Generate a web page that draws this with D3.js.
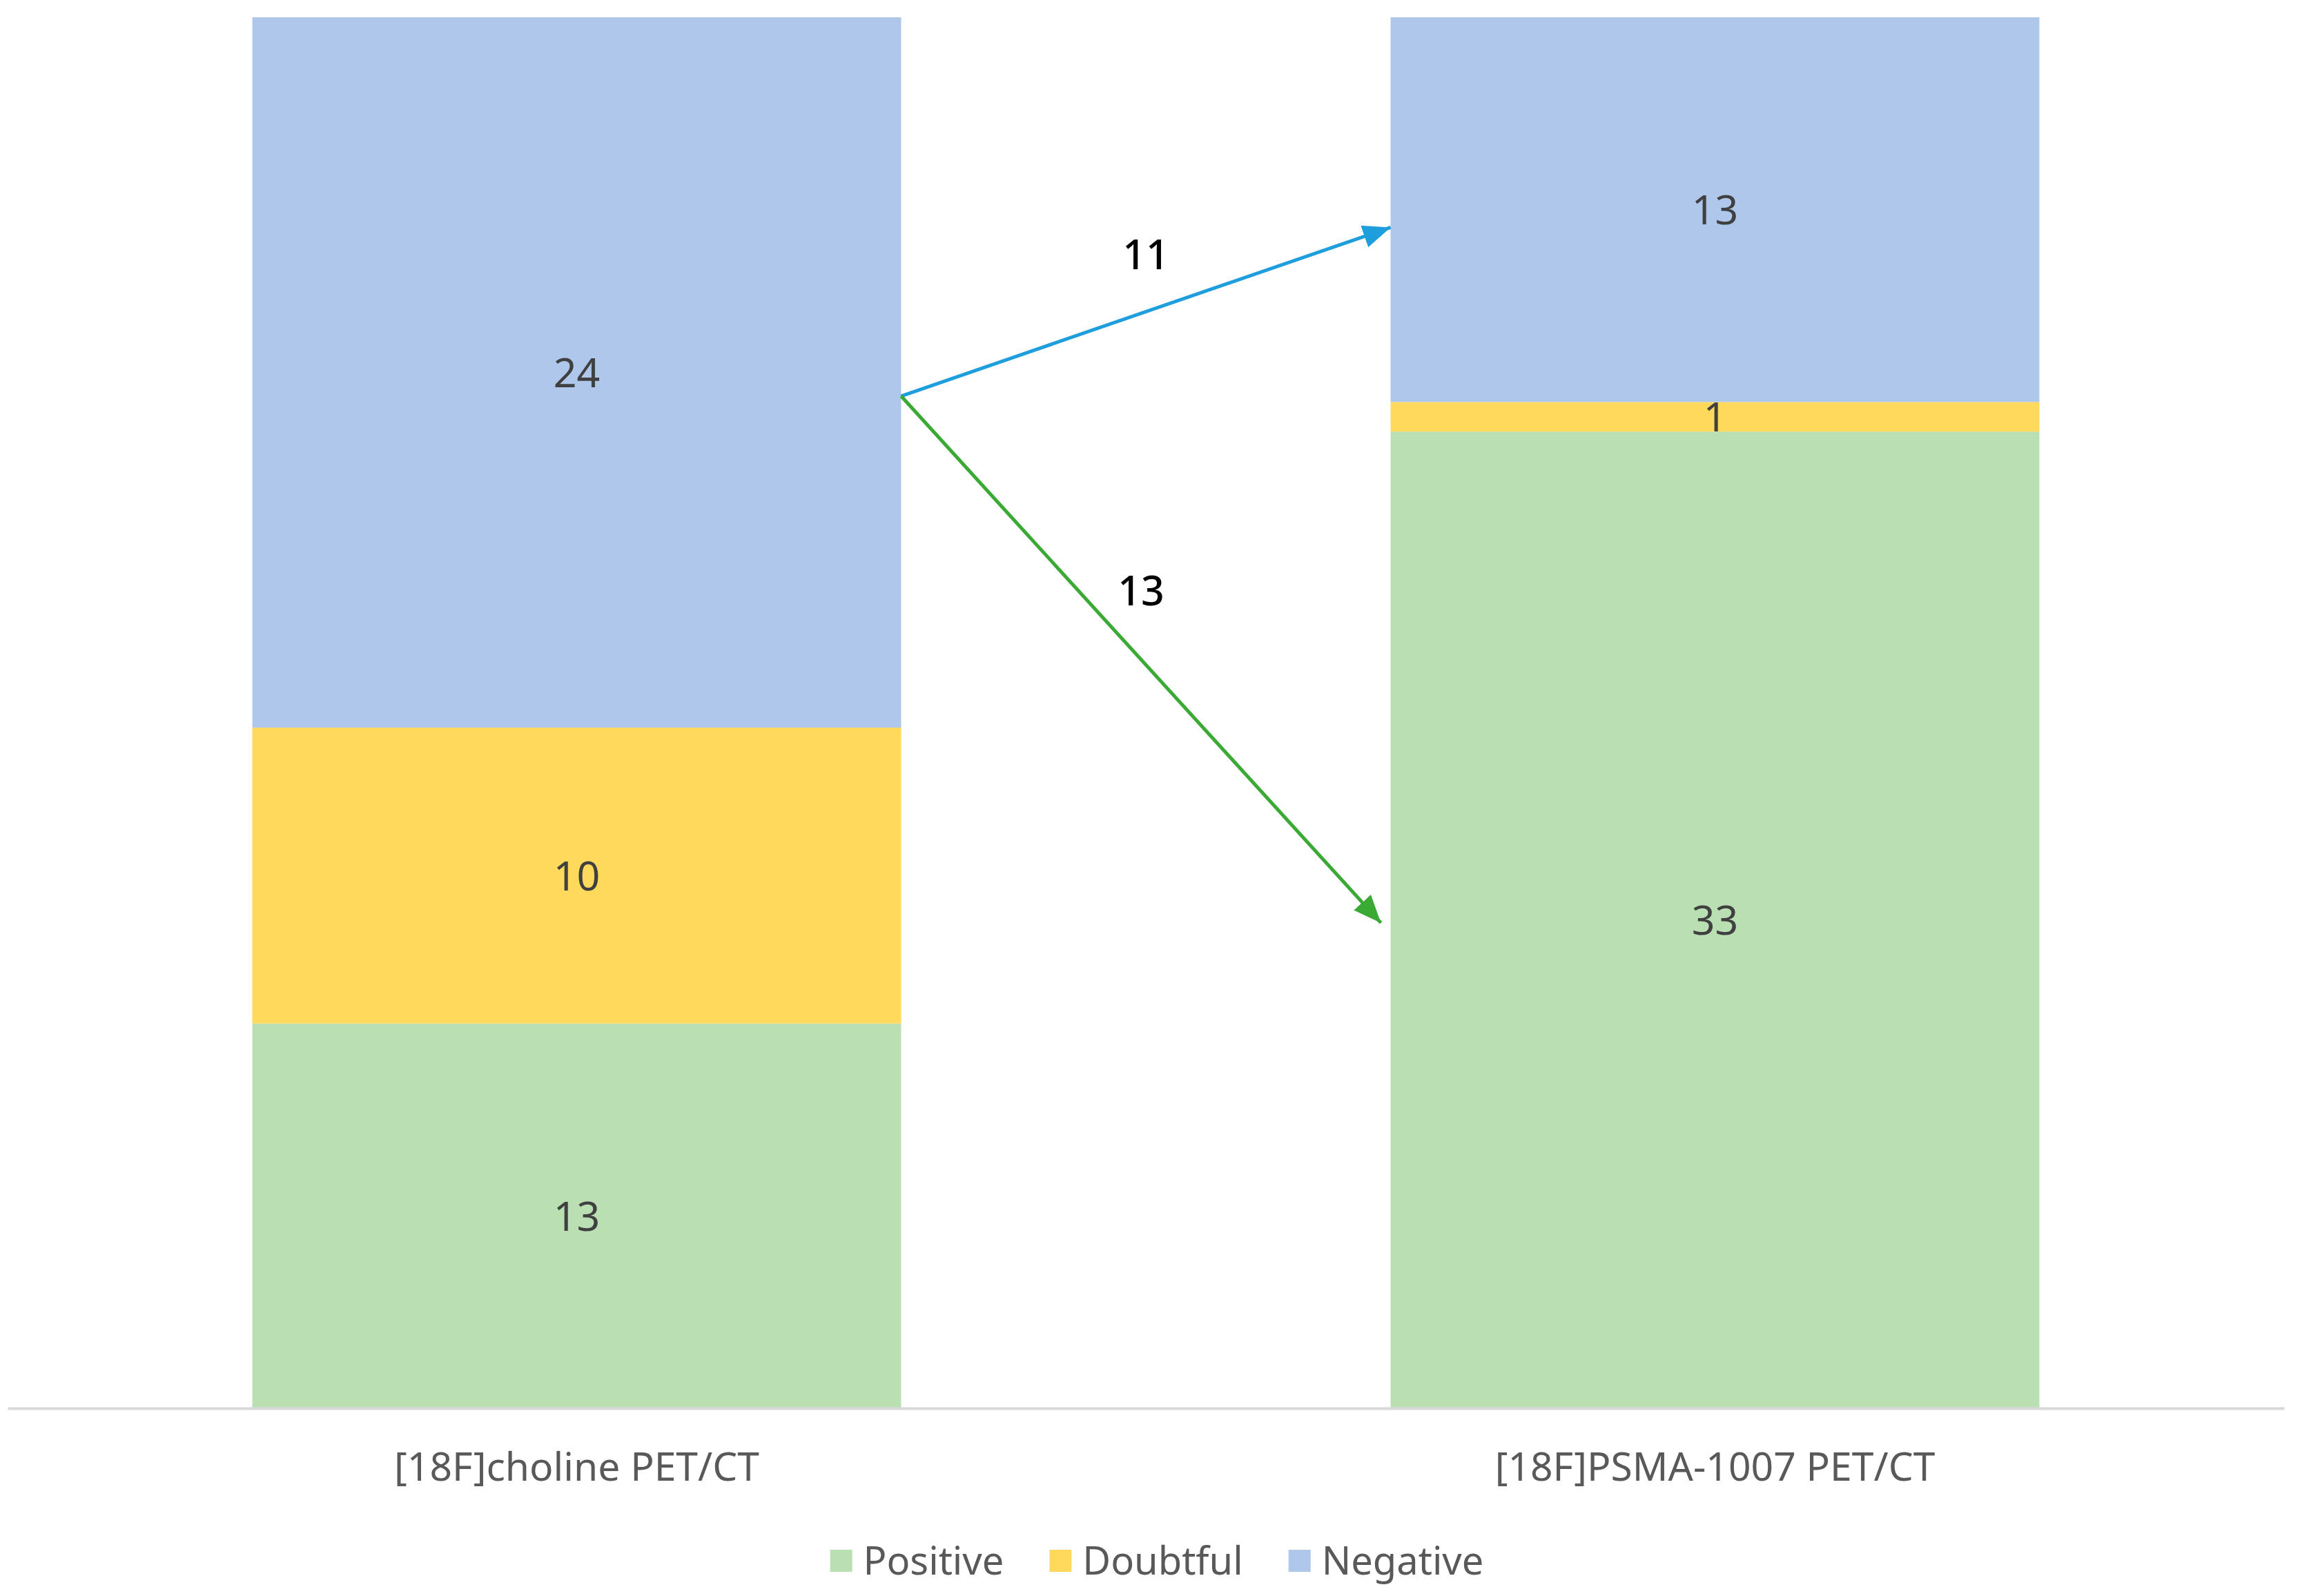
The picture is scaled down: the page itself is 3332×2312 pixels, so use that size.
<!DOCTYPE html>
<html>
<head>
<meta charset="utf-8">
<script src="https://d3js.org/d3.v7.min.js"></script>
<style>
    body { margin: 0; background: #fff; }
    svg text { font-family: 'Noto Sans', 'Open Sans', sans-serif; }
    .seg-label { fill: #404040; font-size: 59px; }
    .cat-label { fill: #595959; font-size: 57px; }
    .legend-label { fill: #595959; font-size: 56px; }
    .flow-label { fill: #000; font-size: 59px; font-weight: 500; }
</style>
</head>
<body>
<svg id="chart" width="3332" height="2312"></svg>
<script>
    const categories = ["[18F]choline PET/CT", "[18F]PSMA-1007 PET/CT"];
    const seriesNames = ["Positive", "Doubtful", "Negative"];
    const positive = [13, 33];
    const doubtful = [10, 1];
    const negative = [24, 13];
    const seriesColors = ["#badfb3", "#fed95c", "#aec7eb"];

    // arrows between the bars: value where they leave / reach each bar
    const flowLabels = ["11", "13"];
    const flowFrom = [34.2, 34.2];
    const flowTo = [39.9, 16.4];
    const flowColors = ["#1f9ede", "#3aaa35"];

    const dims = { width: 3332, height: 2312, left: 11, right: 3309, top: 25, bottom: 2040 };

    const rows = categories.map((c, i) => ({
        cat: c, Positive: positive[i], Doubtful: doubtful[i], Negative: negative[i]
    }));
    const stacked = d3.stack().keys(seriesNames)(rows);

    const x = d3.scaleBand()
        .domain(categories)
        .range([dims.left, dims.right])
        .paddingInner(0.43)
        .paddingOuter(0.215);
    const total = d3.max(rows, r => r.Positive + r.Doubtful + r.Negative);
    const y = d3.scaleLinear().domain([0, total]).range([dims.bottom, dims.top]);
    const color = d3.scaleOrdinal().domain(seriesNames).range(seriesColors);

    const svg = d3.select("#chart");

    // bars
    const layers = svg.append("g").selectAll("g")
        .data(stacked)
        .join("g")
        .attr("fill", d => color(d.key));
    layers.selectAll("rect")
        .data(d => d)
        .join("rect")
        .attr("x", d => x(d.data.cat))
        .attr("width", x.bandwidth())
        .attr("y", d => y(d[1]))
        .attr("height", d => y(d[0]) - y(d[1]));

    // segment labels
    svg.append("g").selectAll("text")
        .data(stacked.flatMap(s => s.map(d => ({ lo: d[0], hi: d[1], cat: d.data.cat }))))
        .join("text")
        .attr("class", "seg-label")
        .attr("x", d => x(d.cat) + x.bandwidth() / 2)
        .attr("y", d => y((d.lo + d.hi) / 2))
        .attr("dy", "0.36em")
        .attr("text-anchor", "middle")
        .text(d => d.hi - d.lo);

    // axis
    const axis = svg.append("g")
        .attr("transform", `translate(0,${dims.bottom})`)
        .call(d3.axisBottom(x).tickSize(0).tickSizeOuter(0).tickFormat(""));
    axis.select(".domain").attr("stroke", "#d9d9d9").attr("stroke-width", 4);

    svg.append("g").selectAll("text")
        .data(categories)
        .join("text")
        .attr("class", "cat-label")
        .attr("x", d => x(d) + x.bandwidth() / 2)
        .attr("y", dims.bottom + 105)
        .attr("text-anchor", "middle")
        .text(d => d);

    // arrows
    const defs = svg.append("defs");
    flowColors.forEach((c, i) => {
        defs.append("marker")
            .attr("id", "arrow" + i)
            .attr("viewBox", "0 0 12 10")
            .attr("refX", 12).attr("refY", 5)
            .attr("markerUnits", "userSpaceOnUse")
            .attr("markerWidth", 40).attr("markerHeight", 34)
            .attr("orient", "auto")
            .append("path")
            .attr("d", "M0,0 L12,5 L0,10 Z")
            .attr("fill", c);
    });
    const x0 = x(categories[0]) + x.bandwidth();
    const x1 = x(categories[1]);
    const tipInset = [0, 14];
    const labelLift = [-83, -100];
    const flows = flowLabels.map((l, i) => ({
        label: l,
        x1: x0, y1: y(flowFrom[i]),
        x2: x1 - tipInset[i], y2: y(flowTo[i]),
        color: flowColors[i], i: i
    }));
    svg.append("g").selectAll("line")
        .data(flows)
        .join("line")
        .attr("x1", d => d.x1)
        .attr("y1", d => d.y1)
        .attr("x2", d => d.x2)
        .attr("y2", d => d.y2)
        .attr("stroke", d => d.color)
        .attr("stroke-width", 5)
        .attr("marker-end", d => `url(#arrow${d.i})`);

    svg.append("g").selectAll("text")
        .data(flows)
        .join("text")
        .attr("class", "flow-label")
        .attr("x", d => (d.x1 + d.x2) / 2)
        .attr("y", d => (d.y1 + d.y2) / 2 + labelLift[d.i])
        .attr("dy", "0.36em")
        .attr("text-anchor", "middle")
        .text(d => d.label);

    // legend
    const legend = svg.append("g");
    const items = legend.selectAll("g")
        .data(seriesNames)
        .join("g");
    items.append("rect")
        .attr("width", 32).attr("height", 32)
        .attr("y", -16)
        .attr("fill", d => color(d));
    items.append("text")
        .attr("class", "legend-label")
        .attr("x", 48)
        .attr("dy", "0.36em")
        .text(d => d);
    let offset = 0;
    const widths = [];
    items.each(function () {
        const w = 48 + d3.select(this).select("text").node().getComputedTextLength();
        widths.push(w);
    });
    const gap = 66;
    const legendW = d3.sum(widths) + gap * (widths.length - 1);
    const legendLeft = (dims.left + dims.right) / 2 - legendW / 2 + 16;
    items.attr("transform", (d, i) => {
        const t = `translate(${legendLeft + offset},2261)`;
        offset += widths[i] + gap;
        return t;
    });
</script>
</body>
</html>
